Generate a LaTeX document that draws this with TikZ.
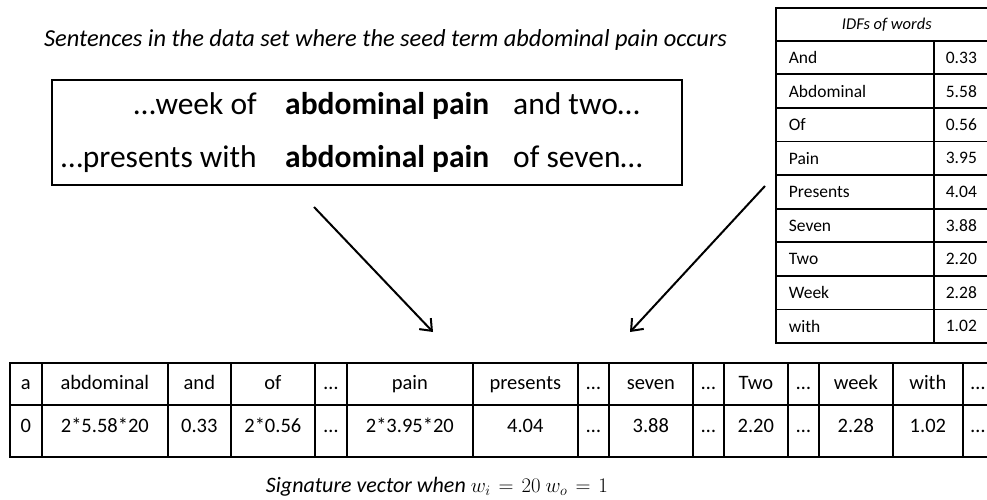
\documentclass[tikz,border=0pt]{standalone}
\usepackage{fontspec}
\setmainfont{Carlito}
\usetikzlibrary{arrows.meta}

\begin{document}
\begin{tikzpicture}[x=1pt,y=-1pt]
\tikzset{
  sentbox/.style={draw,line width=1.5pt,inner sep=0pt},
  sent/.style={inner sep=0pt,font=\fontsize{31.5}{36}\selectfont},
  seed/.style={sent,font=\fontsize{31.5}{36}\selectfont\bfseries},
  idfhead/.style={draw,line width=1.7pt,minimum height=33.6pt,minimum width=222pt,inner sep=0pt,anchor=north west,font=\fontsize{16.5}{20}\selectfont\itshape},
  idfword/.style={draw,line width=1.7pt,minimum height=33.6pt,text width=132pt,inner xsep=13pt,inner ysep=0pt,align=left,anchor=west,font=\fontsize{17.5}{20}\selectfont},
  idfval/.style={idfword,text width=40pt,inner xsep=12pt},
  vechead/.style={draw,line width=1.7pt,minimum height=42pt,inner sep=0pt,anchor=west,text height=14pt,text depth=4pt,font=\fontsize{20.5}{24}\selectfont},
  vecval/.style={vechead,minimum height=52pt,text height=16pt,text depth=13pt},
  pointer/.style={-{Straight Barb[length=10pt,width=16pt]},line width=2pt}
}
\useasboundingbox (0,0) rectangle (987,500);
\clip (0,0) rectangle (987,500);

% sentences with the seed term
\node[font=\fontsize{24.4}{28}\selectfont\itshape,anchor=base] (title) at (385.5,46.7) {Sentences in the data set where the seed term abdominal pain occurs};
\node[sentbox,minimum width=630pt,minimum height=105pt] (sbox) at (367,132.5) {};
\node[sent,anchor=base east] (s1_left) at (257,115) {…week of};
\node[seed,anchor=base west] (s1_seed) at (285,115) {abdominal pain};
\node[sent,anchor=base west] (s1_right) at (513,115) {and two…};
\node[sent,anchor=base east] (s2_left) at (257,167) {…presents with};
\node[seed,anchor=base west] (s2_seed) at (285,167) {abdominal pain};
\node[sent,anchor=base west] (s2_right) at (513,167) {of seven…};

% idf table
\node[idfhead] (idf_head) at (775,7) {IDFs of words};
\node[idfword] (w_and) at (775,57.5) {And};
\node[idfval] (v_and) at (933,57.5) {0.33};
\node[idfword] (w_abdominal) at (775,91.1) {Abdominal};
\node[idfval] (v_abdominal) at (933,91.1) {5.58};
\node[idfword] (w_of) at (775,124.7) {Of};
\node[idfval] (v_of) at (933,124.7) {0.56};
\node[idfword] (w_pain) at (775,158.3) {Pain};
\node[idfval] (v_pain) at (933,158.3) {3.95};
\node[idfword] (w_presents) at (775,191.9) {Presents};
\node[idfval] (v_presents) at (933,191.9) {4.04};
\node[idfword] (w_seven) at (775,225.5) {Seven};
\node[idfval] (v_seven) at (933,225.5) {3.88};
\node[idfword] (w_two) at (775,259.1) {Two};
\node[idfval] (v_two) at (933,259.1) {2.20};
\node[idfword] (w_week) at (775,292.7) {Week};
\node[idfval] (v_week) at (933,292.7) {2.28};
\node[idfword] (w_with) at (775,326.3) {with};
\node[idfval] (v_with) at (933,326.3) {1.02};

% signature vector
\node[vechead,minimum width=32pt] (h_a) at (9,384) {a};
\node[vechead,minimum width=126pt] (h_abdominal) at (41,384) {abdominal};
\node[vechead,minimum width=63pt] (h_and) at (167,384) {and};
\node[vechead,minimum width=84pt] (h_of) at (230,384) {of};
\node[vechead,minimum width=32pt] (h_gap1) at (314,384) {…};
\node[vechead,minimum width=126pt] (h_pain) at (346,384) {pain};
\node[vechead,minimum width=105pt] (h_presents) at (472,384) {presents};
\node[vechead,minimum width=31pt] (h_gap2) at (577,384) {…};
\node[vechead,minimum width=84pt] (h_seven) at (608,384) {seven};
\node[vechead,minimum width=31pt] (h_gap3) at (692,384) {…};
\node[vechead,minimum width=64pt] (h_two) at (723,384) {Two};
\node[vechead,minimum width=31pt] (h_gap4) at (787,384) {…};
\node[vechead,minimum width=74pt] (h_week) at (818,384) {week};
\node[vechead,minimum width=70pt] (h_with) at (892,384) {with};
\node[vechead,minimum width=30pt] (h_gap5) at (962,384) {…};
\node[vecval,minimum width=32pt] (x_a) at (9,431) {0};
\node[vecval,minimum width=126pt] (x_abdominal) at (41,431) {2*5.58*20};
\node[vecval,minimum width=63pt] (x_and) at (167,431) {0.33};
\node[vecval,minimum width=84pt] (x_of) at (230,431) {2*0.56};
\node[vecval,minimum width=32pt] (x_gap1) at (314,431) {…};
\node[vecval,minimum width=126pt] (x_pain) at (346,431) {2*3.95*20};
\node[vecval,minimum width=105pt] (x_presents) at (472,431) {4.04};
\node[vecval,minimum width=31pt] (x_gap2) at (577,431) {…};
\node[vecval,minimum width=84pt] (x_seven) at (608,431) {3.88};
\node[vecval,minimum width=31pt] (x_gap3) at (692,431) {…};
\node[vecval,minimum width=64pt] (x_two) at (723,431) {2.20};
\node[vecval,minimum width=31pt] (x_gap4) at (787,431) {…};
\node[vecval,minimum width=74pt] (x_week) at (818,431) {2.28};
\node[vecval,minimum width=70pt] (x_with) at (892,431) {1.02};
\node[vecval,minimum width=30pt] (x_gap5) at (962,431) {…};
\node[font=\fontsize{22}{26}\selectfont\itshape,anchor=base] (caption) at (437,492) {\thickmuskip=7mu Signature vector when $w_i = 20$\ $w_o = 1$};

% arrows
\coordinate (p1_from) at (314,207);
\coordinate (p1_to) at (433,332);
\coordinate (p2_from) at (765,186);
\coordinate (p2_to) at (630,332);
\draw[pointer] (p1_from) -- (p1_to);
\draw[pointer] (p2_from) -- (p2_to);
\end{tikzpicture}
\end{document}
